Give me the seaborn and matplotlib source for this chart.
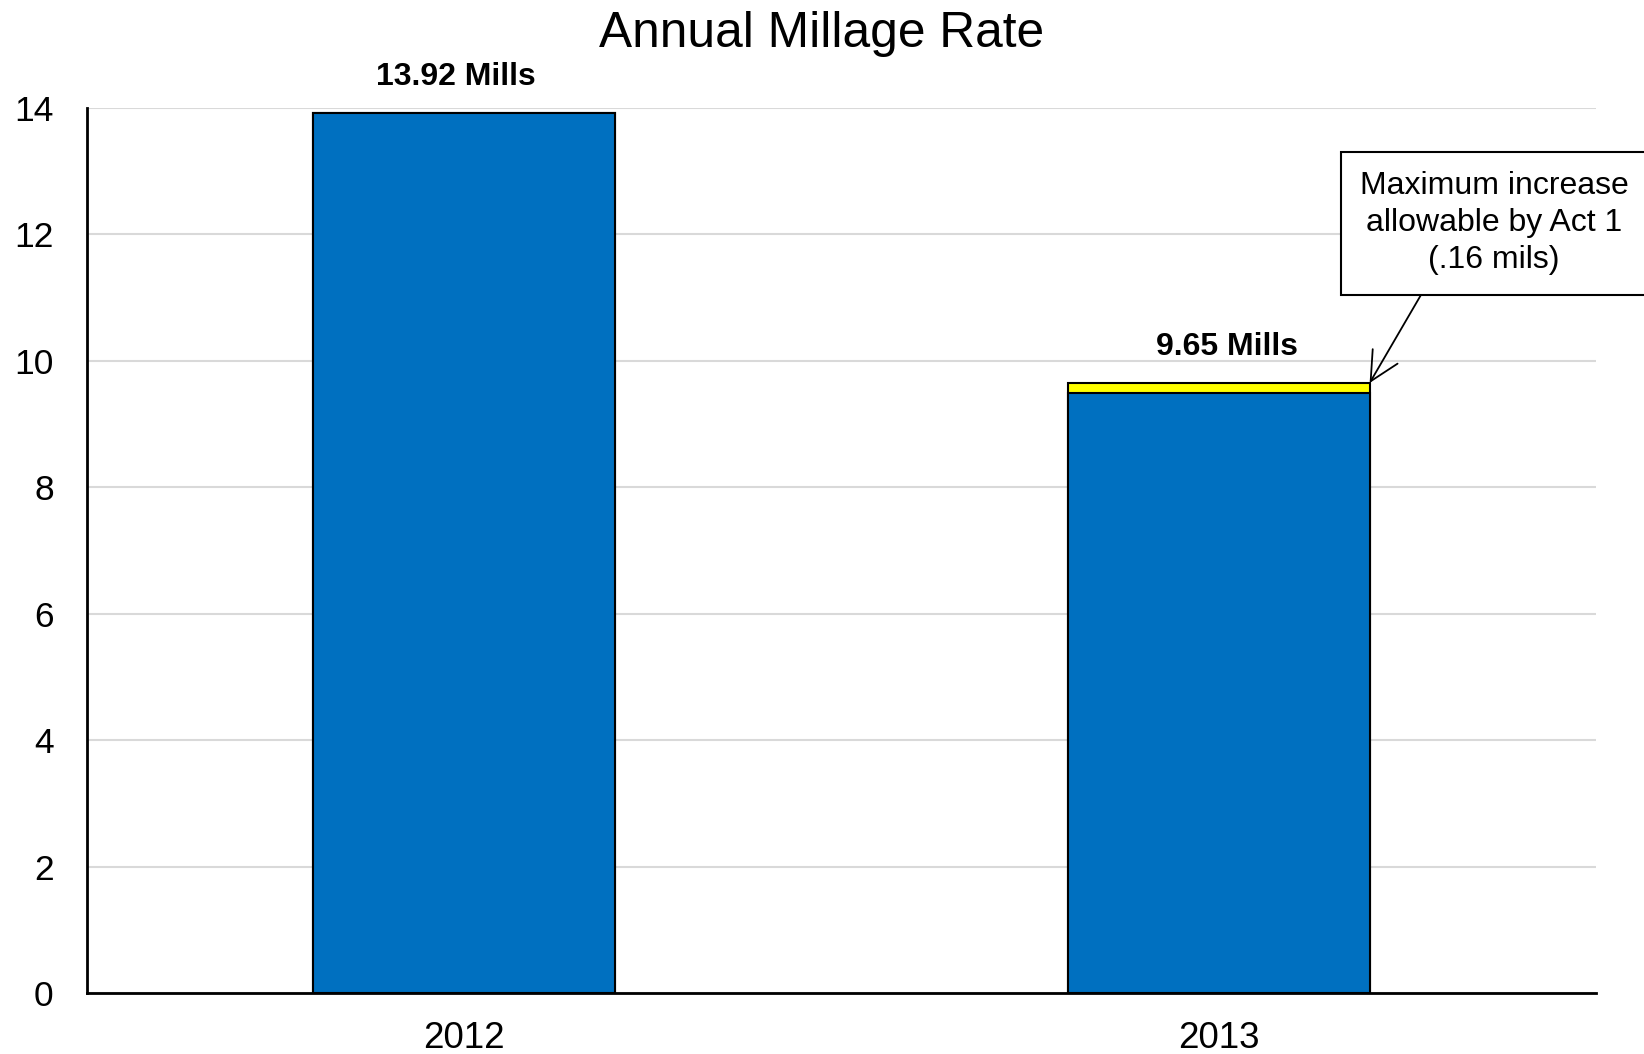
import matplotlib
matplotlib.use("Agg")
import matplotlib.pyplot as plt
import seaborn as sns
import pandas as pd

years = ["2012", "2013"]
base_rate = [13.92, 9.49]
act1_increase = [0.0, 0.16]
total_rate = [13.92, 9.65]
bar_labels = ["13.92 Mills", "9.65 Mills"]
y_ticks = [0, 2, 4, 6, 8, 10, 12, 14]
note_text = "Maximum increase\nallowable by Act 1\n(.16 mils)"

sns.set_theme(style="white")
plt.rcParams['font.family'] = ['Liberation Sans', 'DejaVu Sans']
plt.rcParams['text.color'] = 'black'

df = pd.DataFrame({"year": years, "base": base_rate, "total": total_rate})

fig = plt.figure(figsize=(16.44, 10.54), dpi=100)
ax = fig.add_axes([0.0529, 0.0579, 0.9179, 0.8396])

sns.barplot(data=df, x="year", y="total", color="#FFFF00", width=0.4,
            edgecolor="black", linewidth=1.5, ax=ax, saturation=1)
sns.barplot(data=df, x="year", y="base", color="#0070C0", width=0.4,
            edgecolor="black", linewidth=1.5, ax=ax, saturation=1)

ax.set_xlim(-0.5, 1.5)
ax.set_ylim(0, 14)
ax.set_yticks(y_ticks)
ax.set_yticklabels([str(t) for t in y_ticks])
ax.set_xlabel("")
ax.set_ylabel("")
ax.yaxis.grid(True, color="#D9D9D9", linewidth=1.5)
ax.set_axisbelow(True)
for s in ["top", "right"]:
    ax.spines[s].set_visible(False)
for s in ["left", "bottom"]:
    ax.spines[s].set_color("black")
    ax.spines[s].set_linewidth(2)
ax.tick_params(axis="y", length=0, pad=24, labelsize=25.5, colors="black")
ax.tick_params(axis="x", length=0, pad=20, labelsize=26.5, colors="black")

label_dx = [-6, 6]
for i, (lbl, v) in enumerate(zip(bar_labels, total_rate)):
    ax.annotate(lbl, xy=(i, v), xytext=(label_dx[i], 15), textcoords="offset points",
                ha="center", va="bottom", fontsize=23, fontweight="bold",
                color="black", annotation_clip=False)

ax.annotate(note_text, xy=(1.2, total_rate[1]), xytext=(1.365, 12.18),
            xycoords="data", textcoords="data", ha="center", va="center",
            fontsize=23, linespacing=1.32, annotation_clip=False, color="black",
            bbox=dict(boxstyle="square,pad=0.6", fc="white", ec="black", lw=1.5),
            arrowprops=dict(arrowstyle="->,head_length=0.9,head_width=0.45",
                            color="black", lw=1.3, relpos=(0.27, 0.0),
                            shrinkA=0, shrinkB=0))

fig.suptitle("Annual Millage Rate", x=0.5, y=0.968, fontsize=35.7, va="center",
             color="black")

fig.savefig("out.png", dpi=100)
